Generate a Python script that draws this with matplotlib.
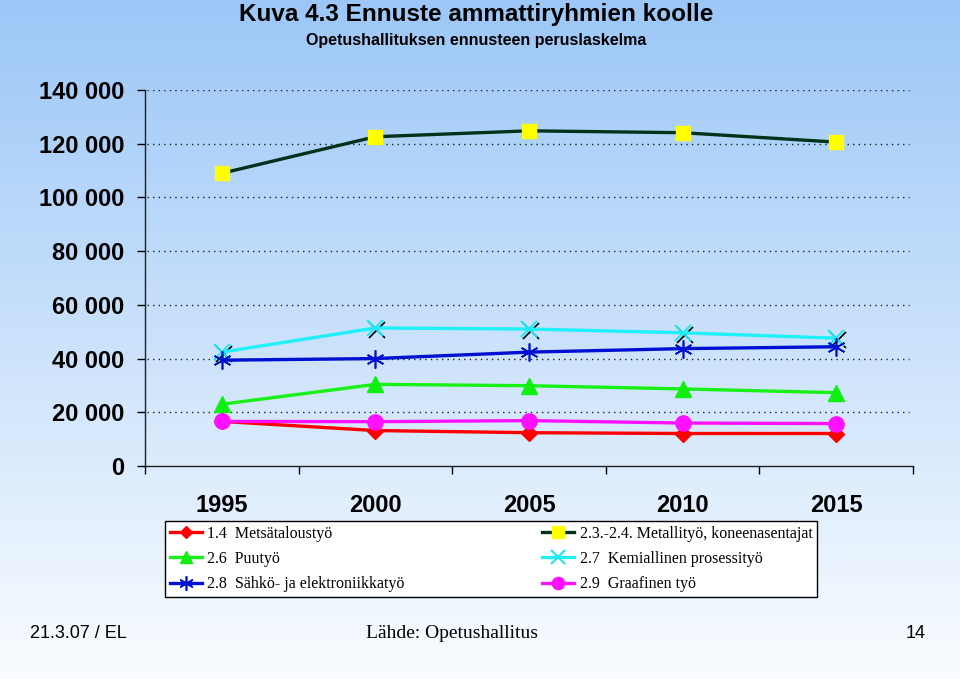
import matplotlib
matplotlib.use("Agg")
import matplotlib.pyplot as plt
import matplotlib.transforms as mtransforms
import numpy as np

years = ['1995', '2000', '2005', '2010', '2015']
metsa = [16600, 13200, 12400, 12100, 12100]
metalli = [109000, 122600, 124800, 124100, 120600]
puu = [23000, 30400, 29900, 28700, 27300]
kemia = [42400, 51400, 51000, 49600, 47600]
sahko = [39400, 40000, 42400, 43700, 44400]
graaf = [16600, 16500, 16900, 16000, 15800]
yticks = [0, 20000, 40000, 60000, 80000, 100000, 120000, 140000]
ytick_labels = ['0', '20 000', '40 000', '60 000', '80 000', '100 000', '120 000', '140 000']

SANS = ['Liberation Sans', 'DejaVu Sans']
SERIF = ['Liberation Serif', 'DejaVu Serif']

fig = plt.figure(figsize=(9.6, 6.79), dpi=100)

# background gradient
bg = fig.add_axes([0, 0, 1, 1], zorder=-10)
top = np.array([0.61, 0.78, 0.97])
bot = np.array([0.98, 0.99, 1.0])
t = np.linspace(0, 1, 256)[:, None]
grad = top[None, :] * (1 - t) + bot[None, :] * t
grad = np.clip((grad[:, None, :] * np.ones((1, 2, 1))), 0, 1)
bg.imshow(grad, aspect='auto', extent=[0, 1, 0, 1], origin='upper')
bg.axis('off')

ax = fig.add_axes([145/960, 1-466/679, (913-145)/960, (466-90)/679])
ax.set_facecolor('none')
x = np.arange(len(years))

lw = 2.4
l1, = ax.plot(x, metsa, color='#ff0000', lw=lw, marker='D', ms=8, mfc='#ff0000', mec='#ff0000', zorder=5,
              label='1.4  Metsätaloustyö')
l4, = ax.plot(x, metalli, color='#00331a', lw=lw, marker='s', ms=10, mfc='#ffff00', mec='#ffff00', zorder=5,
              label='2.3.-2.4. Metallityö, koneenasentajat')
l2, = ax.plot(x, puu, color='#18f018', lw=lw, marker='^', ms=11, mfc='#10f010', mec='#10f010', zorder=5,
              label='2.6  Puutyö')
# shadow for cyan markers
shadow = mtransforms.offset_copy(ax.transData, fig=fig, x=2, y=-2, units='dots')
ax.plot(x, kemia, linestyle='none', marker='x', ms=12, mew=1.2, color='black', transform=shadow, zorder=4)
l5, = ax.plot(x, kemia, color='#20f0f8', lw=lw, marker='x', ms=12, mew=1.5, mec='#20e8f0', zorder=5,
              label='2.7  Kemiallinen prosessityö')
l3, = ax.plot(x, sahko, color='#0010d0', lw=lw, marker=(6, 2, 0), ms=13, mew=1.2, mec='#0010d0', zorder=5,
              label='2.8  Sähkö- ja elektroniikkatyö')
l6, = ax.plot(x, graaf, color='#ff10ff', lw=lw, marker='o', ms=11, mfc='#ff10ff', mec='#ff10ff', zorder=6,
              label='2.9  Graafinen työ')

ax.set_xlim(-0.5, len(years) - 0.5)
ax.set_ylim(0, 140000)
ax.set_yticks(yticks)
ax.set_yticklabels(ytick_labels)
ax.set_xticks(np.arange(len(years) + 1) - 0.5)
ax.set_xticklabels([])
ax.set_xticks(x, minor=True)
ax.set_xticklabels(years, minor=True)

for s in ['top', 'right']:
    ax.spines[s].set_visible(False)
for s in ['left', 'bottom']:
    ax.spines[s].set_linewidth(1.0)
    ax.spines[s].set_color('#202020')

ax.tick_params(axis='y', direction='out', length=6, width=1, pad=9, labelsize=17)
ax.tick_params(axis='x', which='major', direction='out', length=6, width=1)
ax.tick_params(axis='x', which='minor', length=0, pad=20, labelsize=17)
for lab in ax.get_yticklabels() + ax.get_xticklabels(minor=True):
    lab.set_fontfamily(SANS)
    lab.set_fontweight('bold')

for yv in yticks[1:]:
    ax.plot([0.003, 0.995], [yv, yv], transform=ax.get_yaxis_transform(), color='#202020',
            lw=1.0, linestyle=(0, (1, 3)), zorder=1)

handles = [l1, l2, l3, l4, l5, l6]
leg = fig.legend(handles=handles, labels=[h.get_label() for h in handles], ncol=2,
                 loc='upper left', bbox_to_anchor=(165/960, 1-521/679),
                 prop={'family': SERIF, 'size': 11.5}, frameon=True, fancybox=False,
                 edgecolor='black', facecolor='white', framealpha=1.0,
                 handlelength=2.0, handletextpad=0.35, columnspacing=8.6,
                 labelspacing=0.58, borderpad=0.3, borderaxespad=0, markerscale=0.8)
leg.get_frame().set_linewidth(1.0)

fig.text(476/960, 1-15/679, 'Kuva 4.3 Ennuste ammattiryhmien koolle', ha='center', va='center',
         fontsize=17.5, fontweight='bold', family=SANS)
fig.text(476/960, 1-41/679, 'Opetushallituksen ennusteen peruslaskelma', ha='center', va='center',
         fontsize=11.5, fontweight='bold', family=SANS)

fig.text(30/960, 1-633/679, '21.3.07 / EL', ha='left', va='center', fontsize=13, family=SANS)
fig.text(452/960, 1-633/679, 'Lähde: Opetushallitus', ha='center', va='center', fontsize=14, family=SERIF)
fig.text(916/960, 1-633/679, '14', ha='center', va='center', fontsize=13, family=SANS)

fig.savefig('out.png', dpi=100)
